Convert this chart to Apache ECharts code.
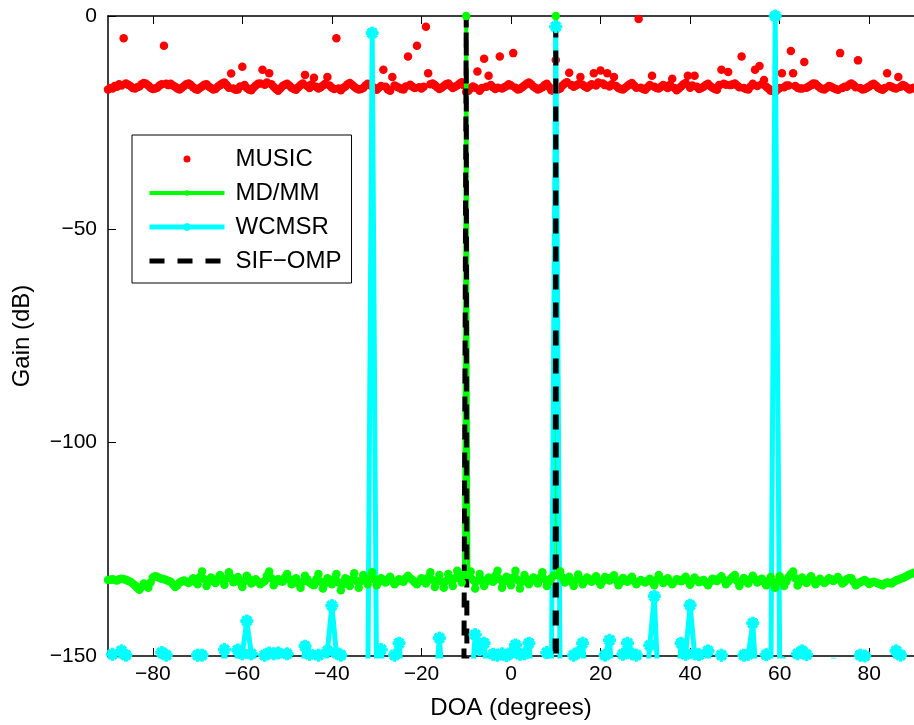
<!DOCTYPE html>
<html><head><meta charset="utf-8">
<script src="https://cdn.jsdelivr.net/npm/echarts@6/dist/echarts.min.js"></script>
<style>html,body{margin:0;padding:0;background:#fff}#c{width:914px;height:725px}</style>
</head><body><div id="c"></div>
<script>
// DOA sampling grids: 1 degree (WCMSR) and 0.5 degree (MUSIC, MD/MM), -90..90
const doa = [];
for (let d = -90; d <= 90; d++) doa.push(d);
const doaFine = [];
for (let k = -180; k <= 180; k++) doaFine.push(k / 2);

const xTicks = [-80, -60, -40, -20, 0, 20, 40, 60, 80];
const yTicks = [-150, -100, -50, 0];
const seriesNames = ['MUSIC', 'MD/MM', 'WCMSR', 'SIF\u2212OMP'];

// MUSIC gain (dB) on the 0.5 degree grid; each row covers 5 degrees
const music = [
 -17.2,-16.9,-17.0,-16.4,-16.6,-16.0,-16.3,-5.2,-15.8,-16.1,
 -16.4,-16.9,-17.0,-16.7,-16.5,-16.0,-15.7,-15.9,-16.3,-16.8,
 -17.1,-17.0,-16.8,-16.3,-16.0,-7.0,-15.9,-16.2,-15.9,-16.3,
 -16.6,-17.0,-17.2,-16.8,-16.4,-16.0,-15.8,-16.2,-16.7,-17.1,
 -17.3,-16.9,-16.5,-16.1,-16.0,-16.5,-16.9,-17.2,-17.1,-16.6,
 -16.2,-15.8,-15.6,-16.2,-16.8,-13.5,-17.0,-17.3,-17.2,-16.5,
 -11.9,-16.2,-16.9,-17.2,-17.4,-16.8,-16.3,-15.9,-15.8,-12.6,
 -16.1,-15.6,-13.4,-16.0,-16.6,-17.1,-17.5,-17.0,-16.4,-16.1,
 -15.9,-16.3,-16.8,-17.1,-17.3,-16.7,-16.2,-15.8,-13.8,-16.4,
 -16.9,-16.0,-14.5,-16.6,-17.0,-16.7,-16.3,-15.9,-14.3,-16.3,
 -16.8,-17.1,-5.2,-17.0,-17.4,-16.9,-16.5,-16.0,-15.7,-16.1,
 -16.6,-17.0,-17.2,-17.1,-16.9,-16.3,-15.9,-16.2,-16.5,-16.9,
 -17.3,-16.8,-16.4,-12.6,-16.6,-17.2,-17.5,-14.3,-16.3,-16.6,
 -16.8,-17.1,-17.2,-16.5,-9.5,-16.1,-16.6,-16.9,-7.0,-16.7,
 -17.0,-16.6,-2.5,-13.4,-16.0,-15.8,-16.2,-16.7,-17.1,-16.8,
 -16.4,-16.0,-15.8,-16.4,-16.9,-16.6,-16.3,-15.9,-15.5,-16.2,
 -17.8,-17.5,-16.9,-16.5,-16.8,-13.0,-17.5,-16.9,-10.0,-16.6,
 -14.0,-16.2,-16.7,-17.1,-16.8,-9.5,-17.0,-16.7,-16.4,-16.0,
 -16.3,-8.7,-16.8,-17.2,-17.1,-16.7,-16.3,-15.9,-15.6,-16.0,
 -16.5,-16.9,-17.2,-17.0,-16.7,-16.2,-15.9,-16.6,-17.4,-17.6,
 -10.3,-17.2,-17.0,-16.3,-15.8,-15.5,-13.3,-16.2,-16.6,-16.3,
 -16.0,-14.3,-16.1,-16.5,-16.8,-16.4,-16.0,-13.4,-16.3,-15.6,
 -12.8,-15.8,-16.2,-13.4,-16.5,-16.0,-14.3,-16.4,-16.9,-17.1,
 -17.2,-16.8,-16.4,-16.0,-15.7,-16.3,-16.8,-0.7,-16.8,-17.1,
 -17.3,-16.7,-16.2,-14.0,-16.6,-16.9,-17.0,-16.6,-16.2,-16.5,
 -16.9,-16.1,-14.7,-16.9,-17.4,-17.0,-16.5,-16.0,-15.7,-14.0,
 -16.8,-16.3,-14.0,-16.6,-17.1,-16.9,-16.6,-16.2,-15.9,-16.4,
 -16.8,-17.1,-17.3,-16.2,-12.6,-15.9,-16.1,-13.1,-16.2,-16.0,
 -15.8,-16.3,-16.7,-9.5,-16.9,-17.1,-17.2,-16.5,-15.9,-12.6,
 -16.4,-11.7,-16.0,-15.0,-16.6,-17.0,-17.5,-17.6,-17.8,-17.3,
 -16.9,-13.4,-16.7,-16.3,-16.3,-8.2,-13.4,-16.4,-16.8,-17.0,
 -17.0,-10.8,-16.8,-16.5,-16.2,-15.8,-15.9,-16.4,-16.8,-17.1,
 -17.2,-16.8,-16.4,-16.6,-16.9,-17.1,-17.3,-8.7,-16.9,-16.6,
 -16.6,-16.1,-15.8,-16.2,-16.7,-10.4,-16.9,-17.2,-17.1,-16.8,
 -16.5,-16.1,-15.9,-16.3,-16.8,-17.1,-17.3,-16.9,-13.4,-16.4,
 -16.6,-16.9,-17.0,-14.3,-16.6,-16.2,-16.4,-16.8,-17.2,-17.0,
 -16.8
];

// MD/MM gain (dB) on the 0.5 degree grid; each row covers 5 degrees
const mdmm = [
 -132.2,-132.1,-132.0,-132.2,-132.3,-132.0,-131.9,-132.0,-132.1,-132.4,
 -132.6,-133.0,-133.4,-134.0,-134.5,-133.8,-133.0,-133.5,-134.0,-132.8,
 -131.6,-131.3,-131.4,-131.7,-131.9,-132.0,-132.2,-132.4,-132.6,-133.2,
 -133.8,-133.4,-132.8,-132.5,-132.3,-132.6,-132.9,-132.4,-131.8,-132.6,
 -133.2,-131.5,-130.2,-132.0,-133.6,-132.6,-131.6,-132.2,-132.9,-131.9,
 -131.0,-132.2,-133.3,-131.8,-130.4,-131.6,-132.7,-132.0,-131.5,-132.8,
 -133.8,-132.4,-131.2,-132.0,-133.0,-132.6,-132.0,-132.6,-133.2,-132.8,
 -132.4,-131.2,-130.2,-131.8,-133.4,-132.6,-132.0,-132.4,-132.6,-131.6,
 -130.8,-132.0,-133.2,-132.4,-131.8,-133.0,-134.0,-132.6,-131.2,-132.0,
 -132.8,-133.2,-133.4,-132.0,-130.8,-132.6,-134.2,-133.0,-131.8,-132.6,
 -133.2,-132.0,-130.8,-132.8,-134.6,-133.2,-131.8,-132.8,-133.6,-132.0,
 -130.6,-132.4,-134.0,-132.4,-131.0,-132.2,-133.2,-131.8,-130.4,-132.0,
 -133.4,-132.6,-131.8,-132.4,-132.8,-132.0,-131.4,-132.4,-133.2,-132.6,
 -132.0,-132.4,-132.6,-131.8,-131.2,-131.8,-132.2,-132.8,-133.2,-132.4,
 -131.8,-132.4,-133.0,-131.6,-130.4,-132.2,-133.8,-132.4,-131.0,-132.6,
 -134.0,-132.4,-130.8,-132.2,-133.6,-131.8,-130.0,-131.4,-132.8,-131.0,
 0.0,-131.0,-130.2,-132.2,-134.2,-132.4,-130.8,-132.2,-133.6,-132.6,
 -131.6,-132.2,-132.6,-131.2,-130.0,-132.0,-134.0,-132.6,-131.4,-132.4,
 -133.4,-131.6,-130.0,-132.2,-134.2,-132.6,-131.0,-132.0,-133.2,-132.4,
 -131.6,-132.2,-133.0,-131.6,-130.4,-132.0,-133.6,-132.6,-131.8,-131.2,
 0.0,-131.0,-130.2,-131.6,-132.8,-132.0,-131.4,-132.6,-133.6,-132.2,
 -130.9,-132.0,-133.2,-132.4,-131.6,-132.0,-132.6,-132.0,-131.3,-132.4,
 -133.3,-132.4,-131.5,-131.8,-132.3,-131.6,-131.1,-132.2,-133.4,-132.6,
 -131.7,-132.2,-132.6,-132.0,-131.4,-132.4,-133.2,-132.6,-132.2,-132.5,
 -132.8,-132.4,-131.9,-132.6,-133.4,-132.2,-131.0,-132.0,-132.9,-132.4,
 -131.8,-132.6,-133.2,-132.6,-132.0,-132.2,-132.5,-132.0,-131.4,-132.4,
 -133.3,-132.4,-131.6,-132.2,-132.7,-132.4,-132.2,-132.8,-133.4,-132.6,
 -131.9,-132.2,-132.4,-131.8,-131.3,-132.2,-133.2,-132.6,-132.0,-131.4,
 -131.0,-132.4,-133.6,-132.6,-131.7,-132.4,-133.0,-132.0,-131.2,-132.0,
 -132.8,-132.4,-131.9,-132.6,-133.4,-132.4,-131.5,-132.8,-134.0,-132.6,
 -131.3,-132.4,-133.6,-132.6,-131.5,-130.8,-130.2,-131.8,-133.5,-132.6,
 -131.6,-132.2,-132.9,-132.0,-131.3,-132.2,-133.2,-132.6,-131.9,-132.4,
 -132.9,-132.4,-131.8,-132.0,-132.4,-132.0,-131.5,-132.2,-133.0,-132.6,
 -132.0,-131.8,-131.8,-132.6,-133.4,-133.0,-132.7,-132.4,-132.2,-132.6,
 -133.1,-132.8,-132.6,-132.8,-133.0,-133.2,-133.4,-133.0,-132.8,-132.9,
 -133.0,-132.6,-132.3,-132.1,-131.9,-131.7,-131.5,-131.2,-130.9,-130.7,
 -130.5
];

// WCMSR gain (dB) on the 1 degree grid (values below -150 fall off the plot)
const wcmsr = [
 -160,-149.6,-160,-148.8,-149.8,-160,-160,-160,-160,-160,
 -160,-160,-149.2,-149.8,-160,-160,-160,-160,-160,-160,
 -149.8,-149.8,-160,-160,-160,-160,-148.5,-160,-160,-148.6,
 -149.5,-141.8,-149.5,-160,-160,-149.8,-149.3,-149.5,-149.3,-160,
 -149.5,-160,-160,-160,-147.7,-149.6,-160,-149.8,-160,-148.8,
 -138.2,-149.3,-149.8,-160,-160,-160,-160,-160,-160,-4.0,
 -160,-148.5,-160,-160,-149.8,-147.0,-160,-160,-160,-160,
 -160,-160,-160,-160,-145.8,-160,-160,-160,-160,-160,
 -160,-160,-145.0,-148.5,-147.0,-160,-149.6,-149.8,-149.5,-149.9,
 -149.3,-147.4,-149.6,-149.5,-147.0,-160,-160,-160,-149.2,-160,
 -2.5,-160,-160,-160,-149.8,-149.2,-147.0,-160,-160,-160,
 -160,-149.8,-146.3,-160,-160,-149.6,-147.0,-149.5,-149.8,-160,
 -160,-147.5,-136.0,-160,-160,-160,-160,-160,-147.0,-149.6,
 -138.1,-149.5,-149.7,-160,-148.8,-160,-160,-149.8,-160,-160,
 -160,-160,-149.8,-149.6,-142.3,-160,-160,-149.7,-160,0.0,
 -151,-150.6,-160,-160,-149.5,-148.8,-149.7,-160,-160,-160,
 -160,-160,-150.5,-160,-160,-160,-160,-160,-149.8,-150.0,
 -160,-160,-160,-160,-160,-160,-148.8,-149.8,-160,-160,
 -160
];

// SIF-OMP: only the two detected directions rise above the floor
const sifDoa  = [-90, -11, -10, -9, 9, 10, 11, 90];
const sifGain = [-1000, -300, 0, -1000, -1000, 0, -1000, -1000];

const minus = v => String(v).replace('-', '\u2212');
const FONT = '"Liberation Sans", Arial, Helvetica, sans-serif';
const star = 'path://M3.8,0L6.2,0L6.2,10L3.8,10Z M0,3.8L10,3.8L10,6.2L0,6.2Z M0.65,2.35L2.35,0.65L9.35,7.65L7.65,9.35Z M7.65,0.65L9.35,2.35L2.35,9.35L0.65,7.65Z';

const pairs = (xs, ys) => xs.map((x, i) => [x, ys[i]]);

const chart = echarts.init(document.getElementById('c'), null, {renderer: 'canvas'});
chart.setOption({
  animation: false,
  backgroundColor: '#fff',
  textStyle: {fontFamily: FONT},
  grid: {left: 108, top: 16, width: 810, height: 642, containLabel: false},
  legend: {
    data: seriesNames,
    orient: 'vertical',
    left: 132, top: 135,
    padding: [11, 10, 9, 15],
    itemWidth: 75, itemHeight: 7, itemGap: 8,
    backgroundColor: '#fff', borderColor: '#000', borderWidth: 1,
    lineStyle: {width: 'inherit'},
    textStyle: {fontFamily: FONT, fontSize: 24, color: '#000', lineHeight: 26, padding: [0, 0, 0, 6]},
    selectedMode: false
  },
  xAxis: [{
    type: 'value', min: -90, max: 90, position: 'bottom',
    name: 'DOA (degrees)', nameLocation: 'middle', nameGap: 40,
    nameTextStyle: {fontFamily: FONT, fontSize: 24, color: '#000'},
    axisLine: {show: true, onZero: false, lineStyle: {color: '#000', width: 1.5}},
    axisTick: {show: true, inside: true, length: 8, customValues: xTicks, lineStyle: {color: '#000', width: 1}},
    axisLabel: {customValues: xTicks, formatter: minus, fontFamily: FONT, fontSize: 21, color: '#000', margin: 8},
    splitLine: {show: false}
  }, {
    type: 'value', min: -90, max: 90, position: 'top',
    axisLine: {show: true, onZero: false, lineStyle: {color: '#000', width: 1.5}},
    axisTick: {show: true, inside: true, length: 8, customValues: xTicks, lineStyle: {color: '#000', width: 1}},
    axisLabel: {show: false},
    splitLine: {show: false}
  }],
  yAxis: [{
    type: 'value', min: -150, max: 0, interval: 50,
    name: 'Gain (dB)', nameLocation: 'middle', nameGap: 74,
    nameTextStyle: {fontFamily: FONT, fontSize: 24, color: '#000'},
    axisLine: {show: true, onZero: false, lineStyle: {color: '#000', width: 1.5}},
    axisTick: {show: true, inside: true, length: 8, lineStyle: {color: '#000', width: 1}},
    axisLabel: {formatter: minus, fontFamily: FONT, fontSize: 21, color: '#000', margin: 11},
    splitLine: {show: false}
  }],
  series: [{
    name: seriesNames[0], type: 'scatter',
    data: pairs(doaFine, music),
    symbol: 'circle', symbolSize: 8.5,
    itemStyle: {color: '#ff0000', opacity: 1}
  }, {
    name: seriesNames[1], type: 'line',
    data: pairs(doaFine, mdmm),
    symbol: 'circle', symbolSize: 8.5, showSymbol: true, showAllSymbol: true,
    lineStyle: {color: '#00ff00', width: 4},
    itemStyle: {color: '#00ff00', borderWidth: 0}
  }, {
    name: seriesNames[2], type: 'line',
    data: pairs(doa, wcmsr),
    symbol: star, symbolSize: 12, showSymbol: true, showAllSymbol: true,
    lineStyle: {color: '#00ffff', width: 5},
    itemStyle: {color: '#00ffff', borderColor: '#00ffff', borderWidth: 1}
  }, {
    name: seriesNames[3], type: 'line',
    data: pairs(sifDoa, sifGain),
    symbol: 'none', showSymbol: false,
    lineStyle: {color: '#000', width: 5, type: [15, 13]},
    itemStyle: {color: 'rgba(0,0,0,0)'}
  }]
});
</script></body></html>
